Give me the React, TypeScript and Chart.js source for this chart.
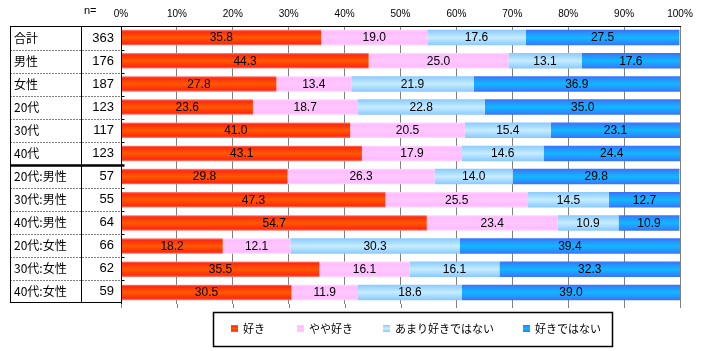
import React, { useEffect, useRef } from 'react';
import { Chart, registerables } from 'chart.js';

Chart.register(...registerables);

const categories = ['合計', '男性', '女性', '20代', '30代', '40代', '20代:男性', '30代:男性', '40代:男性', '20代:女性', '30代:女性', '40代:女性'];
const sampleSizes = [363, 176, 187, 123, 117, 123, 57, 55, 64, 66, 62, 59];
const seriesNames = ['好き', 'やや好き', 'あまり好きではない', '好きではない'];
const like = [35.8, 44.3, 27.8, 23.6, 41.0, 43.1, 29.8, 47.3, 54.7, 18.2, 35.5, 30.5];
const somewhatLike = [19.0, 25.0, 13.4, 18.7, 20.5, 17.9, 26.3, 25.5, 23.4, 12.1, 16.1, 11.9];
const notReally = [17.6, 13.1, 21.9, 22.8, 15.4, 14.6, 14.0, 14.5, 10.9, 30.3, 16.1, 18.6];
const dislike = [27.5, 17.6, 36.9, 35.0, 23.1, 24.4, 29.8, 12.7, 10.9, 39.4, 32.3, 39.0];
const seriesValues = [like, somewhatLike, notReally, dislike];
const xTickValues = [0, 10, 20, 30, 40, 50, 60, 70, 80, 90, 100];

const BAR_PCT = 0.67;
const solidColors = ['#ff4a00', '#ffc0ff', '#a8dcff', '#1aa8ff'];
const gradientStops: [number, string][][] = [
  [[0, '#ff8a80'], [0.12, '#ff2a10'], [0.5, '#ff5a00'], [0.88, '#ff2a10'], [1, '#ff8a80']],
  [[0, '#ffd8ff'], [0.15, '#ffbcff'], [0.5, '#ffc8ff'], [0.85, '#ffbcff'], [1, '#ffd8ff']],
  [[0, '#8cc8ff'], [0.2, '#a0d8ff'], [0.5, '#c8ecff'], [0.8, '#a0d8ff'], [1, '#8cc8ff']],
  [[0, '#3a70ff'], [0.2, '#2a90ff'], [0.5, '#10b8ff'], [0.8, '#2a90ff'], [1, '#3a70ff']],
];

function makeBg(si: number) {
  return (ctx: any) => {
    const chart = ctx.chart;
    const ys = chart.scales && chart.scales.y;
    if (!ys || ctx.type !== 'data' || !ys.height) return solidColors[si];
    const c = ys.getPixelForValue(ctx.dataIndex);
    const half = (ys.height / categories.length) * BAR_PCT / 2;
    const g = chart.ctx.createLinearGradient(0, c - half, 0, c + half);
    gradientStops[si].forEach(([o, col]) => g.addColorStop(o, col));
    return g;
  };
}

const CJK = '"Noto Sans CJK JP", sans-serif';

const overlayPlugin = {
  id: 'overlay',
  afterDraw(chart: any) {
    const { ctx, chartArea, scales } = chart;
    const xs = scales.x;
    ctx.save();

    // value labels
    ctx.fillStyle = '#000';
    ctx.font = '12px "Liberation Sans", sans-serif';
    ctx.textAlign = 'center';
    ctx.textBaseline = 'middle';
    seriesValues.forEach((vals, si) => {
      const meta = chart.getDatasetMeta(si);
      meta.data.forEach((el: any, i: number) => {
        const p = el.getProps(['x', 'y', 'base'], true);
        ctx.fillText(vals[i].toFixed(1), (p.x + p.base) / 2, p.y + 0.5);
      });
    });

    // bottom tick marks
    ctx.strokeStyle = '#808080';
    ctx.lineWidth = 1;
    xTickValues.forEach((v) => {
      const x = Math.round(xs.getPixelForValue(v)) + 0.5;
      ctx.beginPath();
      ctx.moveTo(x, chartArea.bottom);
      ctx.lineTo(x, chartArea.bottom + 4);
      ctx.stroke();
    });

    // table
    const tLeft = 10.5;
    const tMid = 81.5;
    const tRight = Math.round(chartArea.left) + 0.5;
    const tTop = Math.round(chartArea.top) + 0.5;
    const tBottom = 302.5;
    const rowH = (tBottom - tTop) / categories.length;
    ctx.strokeStyle = '#000';
    ctx.lineWidth = 1;
    ctx.setLineDash([]);
    ctx.strokeRect(tLeft, tTop, tRight - tLeft, tBottom - tTop);
    ctx.beginPath();
    ctx.moveTo(tMid, tTop);
    ctx.lineTo(tMid, tBottom);
    ctx.stroke();
    for (let i = 1; i < categories.length; i++) {
      const y = Math.round(tTop + i * rowH) + 0.5;
      if (i === 6) {
        ctx.setLineDash([]);
        ctx.lineWidth = 2.5;
        ctx.beginPath();
        ctx.moveTo(tLeft - 0.5, y);
        ctx.lineTo(tRight + 3, y);
        ctx.stroke();
        ctx.lineWidth = 1;
      } else {
        ctx.setLineDash([1, 2]);
        ctx.beginPath();
        ctx.moveTo(tLeft, y);
        ctx.lineTo(tRight, y);
        ctx.stroke();
        ctx.setLineDash([]);
        ctx.beginPath();
        ctx.moveTo(tRight, y);
        ctx.lineTo(tRight + 3, y);
        ctx.stroke();
      }
    }
    ctx.setLineDash([]);
    ctx.fillStyle = '#000';
    ctx.textBaseline = 'middle';
    categories.forEach((c, i) => {
      const cy = tTop + (i + 0.5) * rowH + 0.5;
      ctx.textAlign = 'left';
      ctx.font = `12px ${CJK}`;
      ctx.fillText(c, 14, cy);
      ctx.textAlign = 'right';
      ctx.font = '13px "Liberation Sans", sans-serif';
      ctx.fillText(String(sampleSizes[i]), 114, cy);
    });

    // n=
    ctx.font = '11px "Liberation Sans", sans-serif';
    ctx.textAlign = 'left';
    ctx.fillText('n=', 84, 11);

    // legend
    ctx.lineWidth = 1.5;
    ctx.strokeStyle = '#000';
    ctx.strokeRect(213.5, 312.5, 399, 34);
    const legX = [231, 297, 383, 523];
    ctx.font = `11px ${CJK}`;
    ctx.textAlign = 'left';
    ctx.textBaseline = 'middle';
    seriesNames.forEach((name, si) => {
      const g = ctx.createLinearGradient(0, 325, 0, 332);
      gradientStops[si].forEach(([o, col]: [number, string]) => g.addColorStop(o, col));
      ctx.fillStyle = g;
      ctx.fillRect(legX[si], 325, 7, 7);
      ctx.fillStyle = '#000';
      ctx.fillText(name, legX[si] + 12, 329);
    });

    ctx.restore();
  },
};

export default function App() {
  const ref = useRef<HTMLCanvasElement>(null);
  useEffect(() => {
    if (!ref.current) return;
    const chart = new Chart(ref.current, {
      type: 'bar',
      data: {
        labels: categories,
        datasets: seriesValues.map((vals, si) => ({
          label: seriesNames[si],
          data: vals,
          backgroundColor: makeBg(si),
          borderWidth: 0,
          barPercentage: BAR_PCT,
          categoryPercentage: 1,
        })),
      },
      options: {
        indexAxis: 'y',
        animation: false,
        responsive: false,
        maintainAspectRatio: false,
        layout: { padding: { left: 121, right: 29, top: 5, bottom: 47 } },
        plugins: {
          legend: { display: false },
          tooltip: { enabled: false },
        },
        scales: {
          x: {
            position: 'top',
            stacked: true,
            min: 0,
            max: 100,
            afterFit: (scale: any) => {
              scale.height = 21;
            },
            ticks: {
              stepSize: 10,
              padding: 6,
              color: '#000',
              font: { family: '"Liberation Sans", sans-serif', size: 10 },
              callback: (v: any) => `${v}%`,
            },
            grid: {
              drawTicks: false,
              tickLength: 0,
              color: (c: any) => (c.tick && c.tick.value === 0 ? '#000' : '#808080'),
            },
            border: { display: true, color: '#000' },
          },
          y: {
            stacked: true,
            display: false,
          },
        },
      },
      plugins: [overlayPlugin],
    });
    return () => chart.destroy();
  }, []);
  return (
    <div style={{ position: 'absolute', left: 0, top: 0, width: 709, height: 351, background: '#fff' }}>
      <canvas ref={ref} width={709} height={351} style={{ display: 'block', width: 709, height: 351 }} />
    </div>
  );
}
